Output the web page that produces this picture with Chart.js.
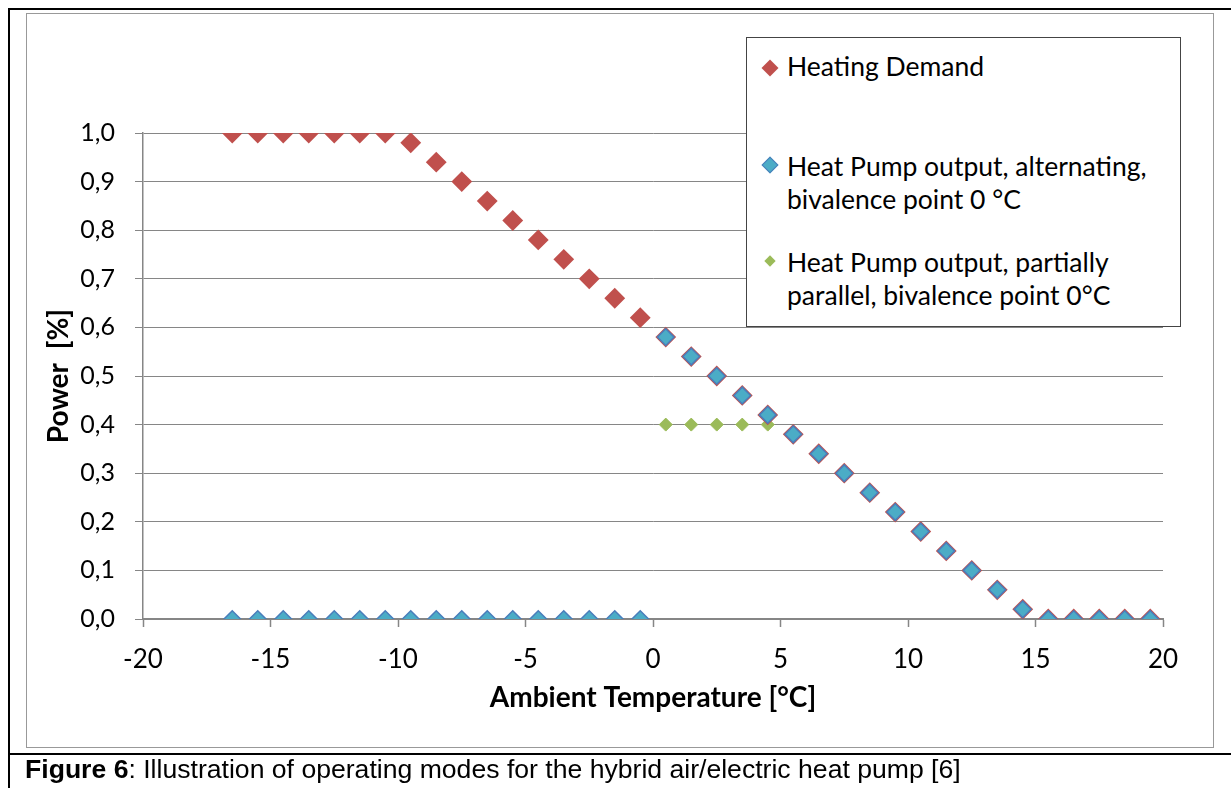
<!DOCTYPE html>
<html><head><meta charset="utf-8">
<script src="https://cdn.jsdelivr.net/npm/chart.js@4.4.1/dist/chart.umd.min.js"></script>
<style>
html,body{margin:0;padding:0;background:#fff;}
body{width:1231px;height:788px;overflow:hidden;position:relative;font-family:Lato,"Open Sans",sans-serif;}
.bl{position:absolute;background:#000;}
#frame{position:absolute;left:26px;top:13px;width:1186px;height:733px;border:1px solid #999;}
#c{position:absolute;left:0;top:0;}
#legend{position:absolute;left:746px;top:37px;width:435px;height:290px;border:1.5px solid #444;background:#fff;box-sizing:border-box;}
.lt{position:absolute;font-family:Lato,sans-serif;font-size:26.5px;line-height:32px;color:#000;white-space:nowrap;}
.mk{position:absolute;transform:rotate(45deg);box-sizing:border-box;}
#caption{position:absolute;left:25px;top:756px;font-family:"Liberation Sans",Arial,sans-serif;font-size:26.6px;line-height:26px;color:#000;white-space:nowrap;}
</style></head>
<body>
<div class="bl" style="left:8px;top:8px;width:1223px;height:2px;"></div>
<div class="bl" style="left:8px;top:8px;width:2px;height:780px;"></div>
<div class="bl" style="left:8px;top:753px;width:1223px;height:2px;"></div>
<div id="frame"></div>
<canvas id="c" width="1231" height="788"></canvas>
<div id="legend"></div>
<div id="caption"><b>Figure 6</b>: Illustration of operating modes for the hybrid air/electric heat pump [6]</div>
<script>
// ---- data ----
const temps = [-16.5,-15.5,-14.5,-13.5,-12.5,-11.5,-10.5,-9.5,-8.5,-7.5,-6.5,-5.5,-4.5,-3.5,-2.5,-1.5,-0.5,
  0.5,1.5,2.5,3.5,4.5,5.5,6.5,7.5,8.5,9.5,10.5,11.5,12.5,13.5,14.5,15.5,16.5,17.5,18.5,19.5];
const heatingDemand = [1.00,1.00,1.00,1.00,1.00,1.00,1.00,0.98,0.94,0.90,0.86,0.82,0.78,0.74,0.70,0.66,0.62,
  0.58,0.54,0.50,0.46,0.42,0.38,0.34,0.30,0.26,0.22,0.18,0.14,0.10,0.06,0.02,0.00,0.00,0.00,0.00,0.00];
const hpAlternating = [0,0,0,0,0,0,0,0,0,0,0,0,0,0,0,0,0,
  0.58,0.54,0.50,0.46,0.42,0.38,0.34,0.30,0.26,0.22,0.18,0.14,0.10,0.06,0.02,0.00,0.00,0.00,0.00,0.00];
const partialTemps = [0.5,1.5,2.5,3.5,4.5];
const hpPartial = [0.40,0.40,0.40,0.40,0.40];
const xTickLabels = ['-20','-15','-10','-5','0','5','10','15','20'];
const yTickLabels = ['0,0','0,1','0,2','0,3','0,4','0,5','0,6','0,7','0,8','0,9','1,0'];
const seriesNames = ['Heating Demand','Heat Pump output, alternating, bivalence point 0 °C','Heat Pump output, partially parallel, bivalence point 0°C'];
const legendLines = [['Heating Demand'],['Heat Pump output, alternating,','bivalence point 0 °C'],['Heat Pump output, partially','parallel, bivalence point 0°C']];
const seriesColors = ['#C0504D','#4BACC6','#9BBB59'];
const seriesBorders = ['#C0504D','#4A7EBB','#9BBB59'];

const pts = (xs, ys) => xs.map((x, i) => ({x: x, y: ys[i]}));

new Chart(document.getElementById('c'), {
  type: 'scatter',
  data: {
    datasets: [
      {label: seriesNames[0], data: pts(temps, heatingDemand), pointStyle: 'rectRot', pointRadius: 9,
       backgroundColor: seriesColors[0], borderColor: seriesBorders[0], borderWidth: 2, order: 2},
      {label: seriesNames[1], data: pts(temps, hpAlternating), pointStyle: 'rectRot', pointRadius: 8.3,
       backgroundColor: seriesColors[1], borderColor: seriesBorders[1], borderWidth: 1.5, order: 1},
      {label: seriesNames[2], data: pts(partialTemps, hpPartial), pointStyle: 'rectRot', pointRadius: 6.5,
       backgroundColor: seriesColors[2], borderColor: seriesBorders[2], borderWidth: 1, order: 3}
    ]
  },
  options: {
    responsive: false, animation: false, devicePixelRatio: 1,
    layout: {padding: {left: 40, top: 133, right: 68, bottom: 60}},
    plugins: {legend: {display: false}, tooltip: {enabled: false}},
    scales: {
      x: {
        type: 'linear', position: 'bottom', min: -20, max: 20,
        afterFit: s => { s.height = 109; },
        ticks: {stepSize: 5, callback: (v, i) => xTickLabels[i], color: '#000', padding: 17, maxRotation: 0,
                font: {family: 'Lato', size: 26}},
        grid: {drawOnChartArea: false, drawTicks: true, tickLength: 8, color: '#868686', tickWidth: 1.5},
        border: {color: '#868686', width: 2},
        title: {display: true, text: 'Ambient Temperature [°C]', color: '#000',
                font: {family: 'Lato', size: 28, weight: 'bold'}, padding: {top: 0, bottom: 13}}
      },
      y: {
        type: 'linear', min: 0, max: 1,
        afterFit: s => { s.width = 103; },
        ticks: {stepSize: 0.1, callback: (v, i) => yTickLabels[i], color: '#000', padding: 20,
                font: {family: 'Lato', size: 25}},
        grid: {color: '#868686', lineWidth: 1, tickLength: 8},
        border: {color: '#868686', width: 1.5},
        title: {display: true, text: 'Power  [%]', color: '#000',
                font: {family: 'Lato', size: 28, weight: 'bold'}, padding: {top: 1.7, bottom: 0}}
      }
    }
  }
});

// ---- legend (HTML, from the series arrays) ----
const lg = document.body;
const legendCapTops = [[57],[157,190],[253,286]];
const markerY = [68, 165, 261];
const markerSide = [12, 12, 8];
legendLines.forEach((lines, k) => {
  const m = document.createElement('div');
  m.className = 'mk';
  const s = markerSide[k];
  m.style.width = s + 'px'; m.style.height = s + 'px';
  m.style.left = (770 - s / 2) + 'px'; m.style.top = (markerY[k] - s / 2) + 'px';
  m.style.background = seriesColors[k];
  if (k === 1) m.style.border = '1px solid ' + seriesBorders[k];
  lg.appendChild(m);
  lines.forEach((t, j) => {
    const d = document.createElement('div');
    d.className = 'lt';
    d.textContent = t;
    d.style.left = '787px';
    d.style.top = (legendCapTops[k][j] - 7.3) + 'px';
    lg.appendChild(d);
  });
});
</script>
</body></html>
